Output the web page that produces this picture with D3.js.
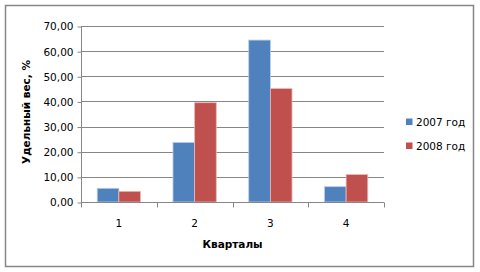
<!DOCTYPE html>
<html>
<head>
<meta charset="utf-8">
<script src="https://cdn.jsdelivr.net/npm/d3@7"></script>
<style>
  body { margin: 0; background: #fff; }
  text { font-family: "DejaVu Sans", Verdana, sans-serif; fill: #000; }
</style>
</head>
<body>
<script>
// Data
var quarters = ['1', '2', '3', '4'];
var seriesNames = ['2007 год', '2008 год'];
var values2007 = [5.45, 23.7, 64.4, 6.1];
var values2008 = [4.25, 39.5, 45.1, 10.9];
var yTicks = [0, 10, 20, 30, 40, 50, 60, 70];
var colors = ['#4F81BD', '#C0504D'];

var svg = d3.select('body').append('svg')
    .attr('width', 480)
    .attr('height', 272);

// outer frame
svg.append('rect')
    .attr('x', 5.5).attr('y', 5.5)
    .attr('width', 468).attr('height', 261)
    .style('fill', '#fff')
    .style('stroke', '#868686')
    .style('stroke-width', 1.5);

var plotLeft = 81, plotRight = 384, plotTop = 26, plotBottom = 202;

var x = d3.scaleBand().domain(quarters).range([plotLeft, plotRight]);
var inner = d3.scaleBand().domain([0, 1]).range([0, x.bandwidth()]).paddingOuter(0.75).paddingInner(0);
var y = d3.scaleLinear().domain([0, 70]).range([plotBottom, plotTop]);

// gridlines
svg.selectAll('.grid').data(yTicks.slice(1)).enter().append('line')
    .attr('class', 'grid')
    .attr('x1', plotLeft).attr('x2', plotRight)
    .attr('y1', function(d){ return Math.round(y(d)) + 0.5; })
    .attr('y2', function(d){ return Math.round(y(d)) + 0.5; })
    .style('stroke', '#868686');

// bars
var rows = quarters.map(function(q, i){ return {q: q, vals: [values2007[i], values2008[i]]}; });
var groups = svg.selectAll('.grp').data(rows).enter().append('g')
    .attr('transform', function(d){ return 'translate(' + x(d.q) + ',0)'; });
groups.selectAll('rect').data(function(d){ return d.vals; }).enter().append('rect')
    .attr('x', function(d, i){ return inner(i); })
    .attr('width', inner.bandwidth())
    .attr('y', function(d){ return y(d); })
    .attr('height', function(d){ return plotBottom - y(d); })
    .style('fill', function(d, i){ return colors[i]; })
    .style('stroke', function(d, i){ return i === 0 ? '#b9cde5' : '#e6b9b8'; })
    .style('stroke-width', 0.8);

// y axis
var yAxis = d3.axisLeft(y).tickValues(yTicks).tickSize(4).tickPadding(4)
    .tickFormat(function(d){ return d3.format('.2f')(d).replace('.', ','); });
var ya = svg.append('g').attr('transform', 'translate(' + (plotLeft + 0.5) + ',0.5)').call(yAxis);
ya.select('.domain').attr('d', 'M0,' + plotTop + 'V' + plotBottom).style('stroke', '#868686');
ya.selectAll('.tick line').style('stroke', '#868686');
ya.selectAll('.tick text').style('font-size', '10.5px').style('font-family', null);

// x axis
var xa = svg.append('g').attr('transform', 'translate(0,' + (plotBottom + 0.5) + ')');
xa.append('line').attr('x1', plotLeft).attr('x2', plotRight).style('stroke', '#868686');
xa.selectAll('.xt').data(d3.range(quarters.length + 1)).enter().append('line')
    .attr('x1', function(i){ return Math.round(plotLeft + i * x.step()) + 0.5; })
    .attr('x2', function(i){ return Math.round(plotLeft + i * x.step()) + 0.5; })
    .attr('y1', 0).attr('y2', 5)
    .style('stroke', '#868686');
xa.selectAll('.xl').data(quarters).enter().append('text')
    .attr('x', function(d){ return x(d) + x.bandwidth() / 2; })
    .attr('y', 24)
    .attr('text-anchor', 'middle')
    .style('font-size', '10.5px')
    .text(function(d){ return d; });

// axis titles
svg.append('text')
    .attr('x', (plotLeft + plotRight) / 2).attr('y', 248)
    .attr('text-anchor', 'middle')
    .style('font-size', '10.5px').style('font-weight', 'bold')
    .text('Кварталы');
svg.append('text')
    .attr('transform', 'translate(30,112) rotate(-90)')
    .attr('text-anchor', 'middle')
    .style('font-size', '10.5px').style('font-weight', 'bold')
    .text('Удельный вес, %');

// legend
var legend = svg.selectAll('.leg').data(seriesNames).enter().append('g')
    .attr('transform', function(d, i){ return 'translate(406,' + (122 + i * 24) + ')'; });
legend.append('rect')
    .attr('x', 0).attr('y', -3.5).attr('width', 6.5).attr('height', 6.5)
    .style('fill', function(d, i){ return colors[i]; });
legend.append('text')
    .attr('x', 10).attr('y', 0).attr('dy', '0.35em')
    .style('font-size', '10.5px')
    .text(function(d){ return d; });
</script>
</body>
</html>
